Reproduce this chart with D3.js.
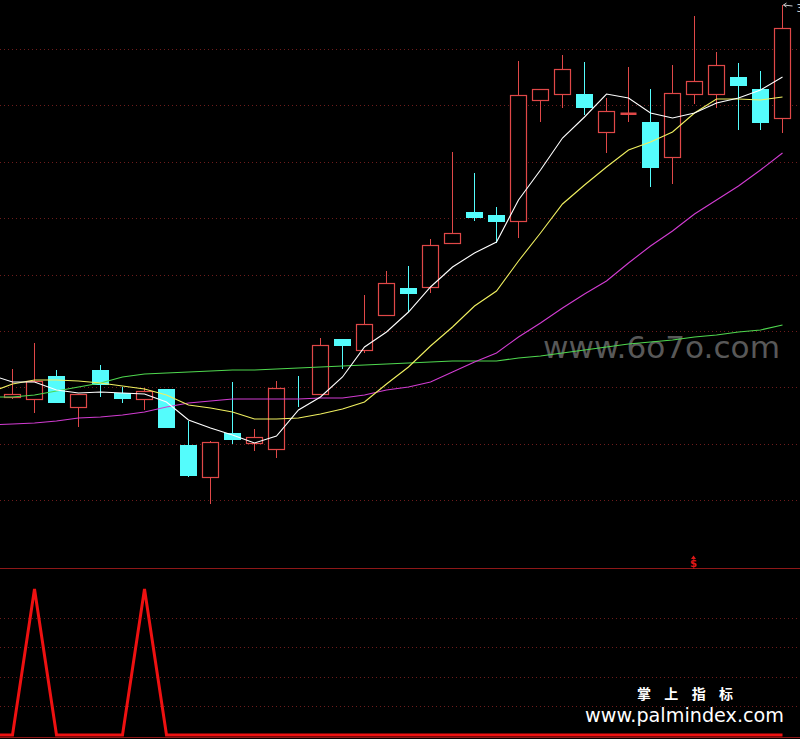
<!DOCTYPE html>
<html><head><meta charset="utf-8">
<script src="https://cdn.jsdelivr.net/npm/d3@7"></script>
<style>html,body{margin:0;padding:0;background:#000;overflow:hidden}</style>
</head><body>
<svg id="chart" width="800" height="739"></svg>
<script>
// ---- data (first day is off-screen to the left, only its averages show) ----
const days = d3.range(-1, 36);
const open  = [null,24.12,24.04,24.96,23.72,25.20,24.28,24.04,24.44,22.20,20.92,22.68,22.28,22.04,24.28,24.24,26.44,26.00,27.40,28.48,28.52,30.28,31.52,31.40,31.16,36.00,36.24,36.24,34.72,35.48,35.12,33.72,36.24,36.24,36.92,36.44,35.28];
const close = [null,24.24,24.76,23.92,24.24,24.64,24.08,24.36,22.92,21.00,22.32,22.44,22.52,24.48,24.27,26.20,26.20,27.04,28.68,28.28,30.20,30.68,31.32,31.16,36.20,36.44,37.24,35.72,35.56,35.49,33.32,36.28,36.76,37.40,36.60,35.12,38.88];
const high  = [null,25.24,26.28,25.20,24.24,25.40,24.52,24.48,24.44,23.16,22.36,24.72,22.84,24.76,24.96,26.48,26.44,28.20,29.16,29.36,30.44,33.92,33.08,31.72,37.56,36.44,37.80,37.52,36.08,37.32,36.44,37.40,39.36,37.92,37.48,37.16,39.80];
const low   = [null,24.04,23.48,23.88,22.92,24.12,23.88,23.60,22.88,20.92,19.84,22.24,21.96,21.68,23.72,24.24,25.24,25.88,27.40,27.52,28.28,30.28,31.16,30.28,30.48,35.12,35.68,35.40,33.88,35.12,32.52,32.64,35.84,35.68,34.80,34.80,34.68];
const ma5   = [25.00,24.72,24.72,24.40,24.28,24.32,24.28,24.24,23.92,23.20,22.88,22.60,22.28,22.56,23.60,24.12,24.92,26.12,26.72,27.52,28.52,29.32,29.88,30.32,32.00,33.20,34.48,35.32,36.24,36.08,35.48,35.28,35.48,35.88,36.08,36.40,36.92];
const ma10  = [24.32,24.64,24.80,24.80,24.76,24.68,24.56,24.44,24.20,23.80,23.68,23.52,23.24,23.24,23.28,23.44,23.64,23.92,24.64,25.32,26.16,26.92,27.76,28.36,29.56,30.68,31.84,32.60,33.32,34.00,34.32,34.72,35.48,36.04,36.04,36.00,36.12];
const ma20  = [23.00,23.04,23.08,23.16,23.28,23.32,23.40,23.52,23.72,23.88,23.96,24.04,24.04,24.04,24.04,24.08,24.08,24.20,24.40,24.52,24.72,25.12,25.52,25.88,26.52,27.08,27.68,28.24,28.76,29.48,30.16,30.76,31.44,32.00,32.56,33.20,33.88];
const ma60  = [24.12,24.12,24.20,24.36,24.52,24.68,24.92,25.04,25.08,25.12,25.16,25.20,25.20,25.24,25.28,25.32,25.36,25.40,25.44,25.48,25.52,25.56,25.56,25.56,25.68,25.76,25.88,26.00,26.12,26.24,26.32,26.40,26.52,26.60,26.72,26.80,27.00];
const signal = [0,0,1,0,0,0,0,1,0,0,0,0,0,0,0,0,0,0,0,0,0,0,0,0,0,0,0,0,0,0,0,0,0,0,0,0,0];
const priceTicks = [38.04,35.785,33.53,31.275,29.02,26.765,24.51,22.255,20.00];
const signalTicks = [0.2,0.4,0.6,0.8];
const markerDay = 31;
const highLabel = "39.80";

// ---- layout ----
const W = 800, H = 739;
const svg = d3.select("#chart");
svg.append("rect").attr("width", W).attr("height", H).attr("fill", "#000");

const x = d3.scaleBand().domain(days).range([-20.5, 793.5]).paddingInner(0.23).paddingOuter(0.115);
const cx = d => x(d) + x.bandwidth() / 2;
const y = d3.scaleLinear().domain([40, 17.28]).range([0, 568]);
const ys = d3.scaleLinear().domain([0, 1]).range([735, 589]);

const UP = "#e04848", DOWN = "#54fcfc", GRID = "#6e1c1c";

// grids
svg.append("g").selectAll("line").data(priceTicks).join("line")
  .attr("x1", 0).attr("x2", W)
  .attr("y1", d => Math.round(y(d)) + 0.5).attr("y2", d => Math.round(y(d)) + 0.5)
  .attr("stroke", GRID).attr("stroke-dasharray", "1,3");
svg.append("g").selectAll("line").data(signalTicks).join("line")
  .attr("x1", 0).attr("x2", W)
  .attr("y1", d => Math.round(ys(d)) + 0.5).attr("y2", d => Math.round(ys(d)) + 0.5)
  .attr("stroke", GRID).attr("stroke-dasharray", "1,3");

// watermark
svg.append("text").attr("x", 543).attr("y", 358)
  .attr("font-family", "DejaVu Sans").attr("font-size", 30)
  .attr("textLength", 237).attr("lengthAdjust", "spacingAndGlyphs")
  .attr("fill", "#585858").text("www.6o7o.com");

// candles
const candles = days.map((d, i) => ({d, o: open[i], c: close[i], h: high[i], l: low[i]})).filter(k => k.o !== null);
const cg = svg.append("g");
candles.forEach(k => {
  const up = k.c > k.o;
  const col = up ? UP : DOWN;
  const xc = Math.round(cx(k.d) - 0.5) + 0.5;
  const top = y(Math.max(k.o, k.c)), bot = y(Math.min(k.o, k.c));
  const bx = xc - 8;
  cg.append("line").attr("x1", xc).attr("x2", xc)
    .attr("y1", Math.round(y(k.h))).attr("y2", Math.round(y(k.l)))
    .attr("stroke", col);
  const t = Math.round(top) + 0.5, b = Math.max(Math.round(bot) + 0.5, t);
  if (up) {
    cg.append("rect").attr("x", bx).attr("y", t).attr("width", 16).attr("height", b - t)
      .attr("fill", "#000").attr("stroke", col).attr("stroke-width", 1.2);
    if (b - t < 1) {
      cg.append("rect").attr("x", bx).attr("y", t - 1).attr("width", 16).attr("height", 2.5).attr("fill", col);
    }
  } else {
    cg.append("rect").attr("x", bx).attr("y", t).attr("width", 16).attr("height", b - t)
      .attr("fill", col).attr("stroke", col);
  }
});

// moving averages
const lineGen = arr => d3.line().x((v, i) => cx(days[i])).y(v => y(v))(arr);
[[ma60, "#4fd84f"], [ma20, "#d23cd2"], [ma10, "#f0f060"], [ma5, "#ffffff"]].forEach(([arr, col]) => {
  svg.append("path").attr("d", lineGen(arr)).attr("fill", "none")
    .attr("stroke", col).attr("stroke-width", 1.1);
});

// high annotation (cut by the right edge, as in the source)
const lastDay = days[days.length - 1];
const hx = cx(lastDay), hy = y(high[high.length - 1]);
svg.append("path").attr("d", `M${hx + 1},${hy} L${hx + 10},${hy + 1}`)
  .attr("stroke", "#cccccc").attr("fill", "none");
svg.append("path").attr("d", `M${hx + 4},${hy - 2} L${hx + 1},${hy} L${hx + 4},${hy + 2}`)
  .attr("stroke", "#cccccc").attr("fill", "none");
svg.append("text").attr("x", hx + 14).attr("y", hy + 7)
  .attr("font-family", "DejaVu Sans").attr("font-size", 10).attr("fill", "#cccccc").text(highLabel);

// separator and bottom border
svg.append("line").attr("x1", 0).attr("x2", W).attr("y1", 568.5).attr("y2", 568.5).attr("stroke", "#8e1818");
svg.append("line").attr("x1", 0).attr("x2", W).attr("y1", 737.5).attr("y2", 737.5).attr("stroke", "#8e1818");

// signal marker
const mx = cx(days[markerDay + 1]);
svg.append("text").attr("x", mx - 1).attr("y", 567).attr("text-anchor", "middle")
  .attr("font-family", "DejaVu Sans").attr("font-weight", "bold").attr("font-size", 10)
  .attr("fill", "#e01818").text("$");
svg.append("path").attr("d", `M${mx - 3.5},${559} L${mx - 1},${555.5} L${mx + 1.5},${559} Z`).attr("fill", "#e01818");

// signal line
svg.append("path")
  .attr("d", d3.line().x((v, i) => cx(days[i])).y(v => ys(v))(signal))
  .attr("fill", "none").attr("stroke", "#ee1111").attr("stroke-width", 3).attr("stroke-linejoin", "miter");

// footer texts
svg.append("text").attr("x", 637).attr("y", 699)
  .attr("font-family", "Noto Sans CJK SC").attr("font-weight", "bold").attr("font-size", 14)
  .attr("textLength", 96).attr("lengthAdjust", "spacing")
  .attr("fill", "#ffffff").text("掌上指标");
svg.append("text").attr("x", 585).attr("y", 722)
  .attr("font-family", "DejaVu Sans").attr("font-size", 19)
  .attr("textLength", 199).attr("lengthAdjust", "spacingAndGlyphs")
  .attr("fill", "#ffffff").text("www.palmindex.com");
</script>
</body></html>
